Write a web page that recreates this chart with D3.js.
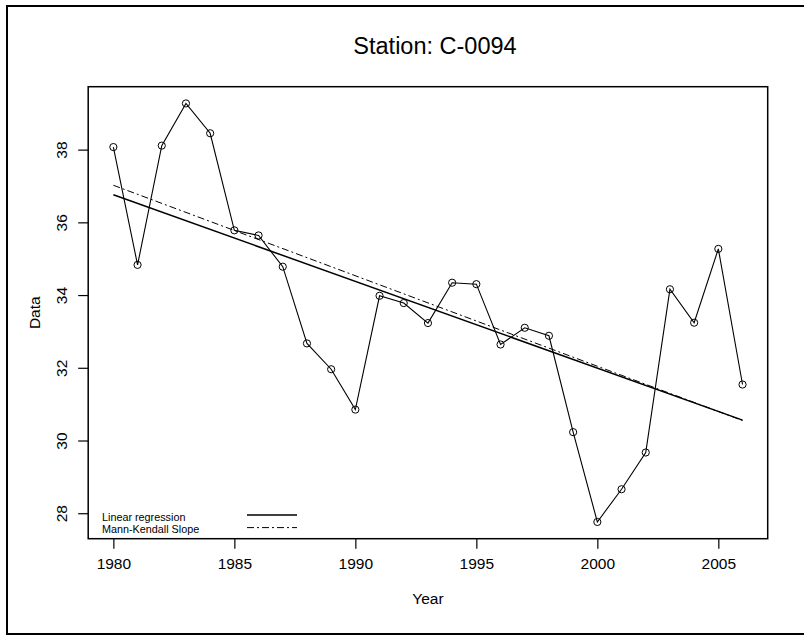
<!DOCTYPE html>
<html>
<head>
<meta charset="utf-8">
<script src="https://cdn.jsdelivr.net/npm/d3@7"></script>
<style>
  html, body { margin: 0; padding: 0; background: #fff; }
  svg { display: block; font-family: "Liberation Sans", Arial, Helvetica, sans-serif; }
</style>
</head>
<body>
<svg id="chart" width="804" height="635"></svg>
<script>
// ---- data ----
const years = [1980,1981,1982,1983,1984,1985,1986,1987,1988,1989,1990,1991,1992,1993,
               1994,1995,1996,1997,1998,1999,2000,2001,2002,2003,2004,2005,2006];
const values = [38.07,34.83,38.11,39.27,38.45,35.78,35.64,34.78,32.67,31.96,30.85,33.98,33.78,33.23,
                34.34,34.30,32.64,33.10,32.88,30.23,27.76,28.66,29.67,34.16,33.24,35.27,31.54];
const trendYears = [1980, 2006];
const linearFit = [36.76, 30.56];
const mannKendallFit = [37.02, 30.55];
const xTicks = [1980, 1985, 1990, 1995, 2000, 2005];
const yTicks = [28, 30, 32, 34, 36, 38];
const legendLabels = ["Linear regression", "Mann-Kendall Slope"];
const titleText = "Station: C-0094";
const xLabel = "Year";
const yLabel = "Data";

// ---- layout ----
const svg = d3.select("#chart");
const pL = 88.2, pR = 767.7, pT = 86.7, pB = 538.7;

function padded(ext) { const r = ext[1] - ext[0]; return [ext[0] - 0.04 * r, ext[1] + 0.04 * r]; }
const x = d3.scaleLinear().domain(padded(d3.extent(years))).range([pL, pR]);
const y = d3.scaleLinear().domain(padded(d3.extent(values))).range([pB, pT]);

// outer frame
svg.append("rect").attr("x", 7).attr("y", 6).attr("width", 810).attr("height", 628)
  .attr("fill", "none").attr("stroke", "#000").attr("stroke-width", 2);

// title
svg.append("text").attr("x", 435).attr("y", 54).attr("text-anchor", "middle")
  .attr("font-size", 23.5).text(titleText);

// axes
const xAxis = d3.axisBottom(x).tickValues(xTicks).tickFormat(d3.format("d")).tickSize(10).tickPadding(9);
const gx = svg.append("g").attr("transform", `translate(0,${pB})`).call(xAxis);
gx.select(".domain").remove();
gx.selectAll("text").attr("font-size", 15.5).attr("font-family", "Liberation Sans, Arial, sans-serif");
gx.selectAll("line").attr("stroke-width", 1.2);

const yAxis = d3.axisLeft(y).tickValues(yTicks).tickFormat(d3.format("d")).tickSize(10).tickPadding(8);
const gy = svg.append("g").attr("transform", `translate(${pL},0)`).call(yAxis);
gy.select(".domain").remove();
gy.selectAll("line").attr("stroke-width", 1.2);
gy.selectAll("text")
  .attr("font-size", 15.5).attr("font-family", "Liberation Sans, Arial, sans-serif")
  .attr("text-anchor", "middle").attr("x", null)
  .attr("transform", "translate(-27,0) rotate(-90)")
  .attr("y", 0).attr("dy", "0.35em");

// plot box
svg.append("rect").attr("x", pL).attr("y", pT).attr("width", pR - pL).attr("height", pB - pT)
  .attr("fill", "none").attr("stroke", "#000").attr("stroke-width", 1.5);

// axis labels
svg.append("text").attr("x", (pL + pR) / 2).attr("y", 604).attr("text-anchor", "middle")
  .attr("font-size", 15.5).text(xLabel);
svg.append("text").attr("transform", `translate(40,${(pT + pB) / 2}) rotate(-90)`)
  .attr("text-anchor", "middle").attr("font-size", 15.5).text(yLabel);

// trend lines
const trendLine = d3.line().x(d => x(d[0])).y(d => y(d[1]));
svg.append("path").datum(trendYears.map((t, i) => [t, linearFit[i]]))
  .attr("d", trendLine).attr("fill", "none").attr("stroke", "#000").attr("stroke-width", 1.5);
svg.append("path").datum(trendYears.map((t, i) => [t, mannKendallFit[i]]))
  .attr("d", trendLine).attr("fill", "none").attr("stroke", "#000").attr("stroke-width", 1)
  .attr("stroke-dasharray", "7,3,2,3");

// data line + points
const pts = years.map((t, i) => [t, values[i]]);
svg.append("path").datum(pts).attr("d", d3.line().x(d => x(d[0])).y(d => y(d[1])))
  .attr("fill", "none").attr("stroke", "#000").attr("stroke-width", 1.1);
svg.append("g").selectAll("circle").data(pts).join("circle")
  .attr("cx", d => x(d[0])).attr("cy", d => y(d[1])).attr("r", 3.6)
  .attr("fill", "none").attr("stroke", "#000").attr("stroke-width", 1);

// legend
const lg = svg.append("g");
legendLabels.forEach((lab, i) => {
  const yy = 520.5 + i * 12.6;
  lg.append("text").attr("x", 102).attr("y", yy).attr("font-size", 10.8).text(lab);
  const ln = lg.append("line").attr("x1", 247).attr("x2", 297).attr("y1", yy - 5.5).attr("y2", yy - 5.5)
    .attr("stroke", "#000").attr("stroke-width", i === 0 ? 1.5 : 1);
  if (i === 1) ln.attr("stroke-dasharray", "7,3,2,3");
});
</script>
</body>
</html>
